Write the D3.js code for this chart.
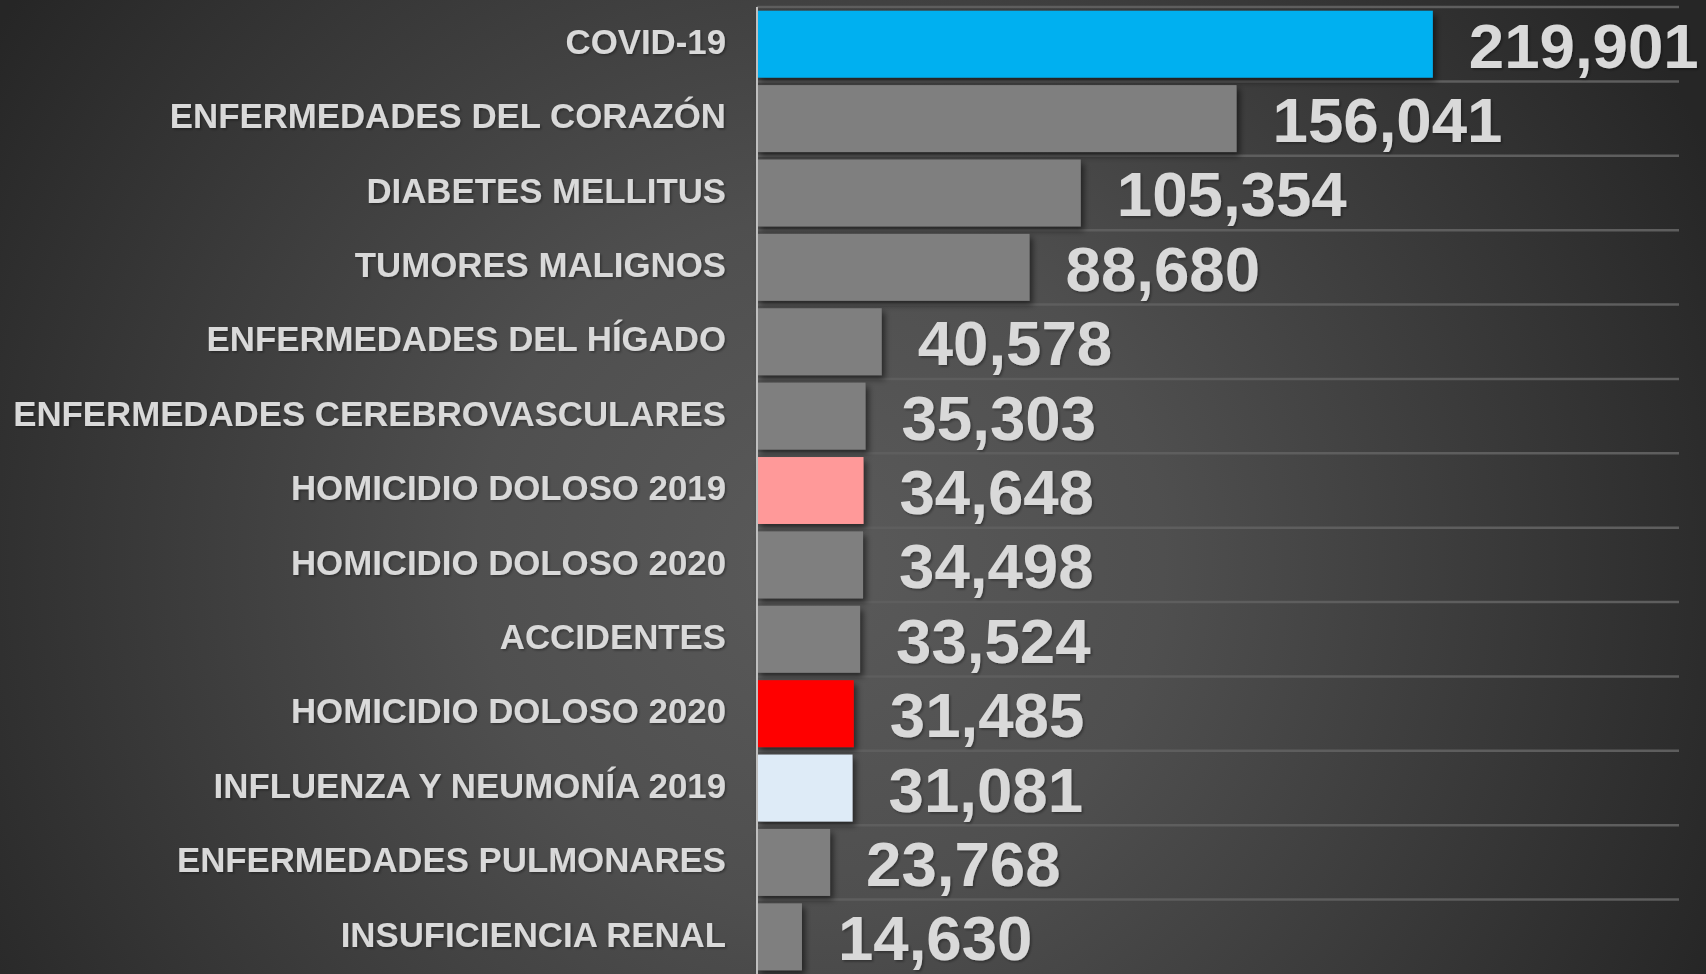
<!DOCTYPE html>
<html>
<head>
<meta charset="utf-8">
<script src="https://cdn.jsdelivr.net/npm/d3@7"></script>
<style>
  html, body { margin: 0; padding: 0; background: #2b2b2b; overflow: hidden; }
  svg { display: block; }
</style>
</head>
<body>
<svg id="chart" width="1706" height="974"></svg>
<script>
const categories = [
  "COVID-19",
  "ENFERMEDADES DEL CORAZÓN",
  "DIABETES MELLITUS",
  "TUMORES MALIGNOS",
  "ENFERMEDADES DEL HÍGADO",
  "ENFERMEDADES CEREBROVASCULARES",
  "HOMICIDIO DOLOSO 2019",
  "HOMICIDIO DOLOSO 2020",
  "ACCIDENTES",
  "HOMICIDIO DOLOSO 2020",
  "INFLUENZA Y NEUMONÍA 2019",
  "ENFERMEDADES PULMONARES",
  "INSUFICIENCIA RENAL"
];
const values = [219901, 156041, 105354, 88680, 40578, 35303, 34648, 34498, 33524, 31485, 31081, 23768, 14630];
const barColors = ["#00b0f0", "#7f7f7f", "#7f7f7f", "#7f7f7f", "#7f7f7f", "#7f7f7f", "#ff9999", "#7f7f7f", "#7f7f7f", "#ff0000", "#deebf7", "#7f7f7f", "#7f7f7f"];
const xMax = 300000;

const W = 1706, H = 974;
const svg = d3.select("#chart");
const defs = svg.append("defs");

const grad = defs.append("radialGradient")
  .attr("id", "bg").attr("gradientUnits", "userSpaceOnUse")
  .attr("cx", 820).attr("cy", 560).attr("r", 980);
grad.append("stop").attr("offset", "0%").attr("stop-color", "#5a5a5a");
grad.append("stop").attr("offset", "35%").attr("stop-color", "#4f4f4f");
grad.append("stop").attr("offset", "100%").attr("stop-color", "#262626");

const sh = defs.append("filter").attr("id", "shadow")
  .attr("x", "-10%").attr("y", "-20%").attr("width", "130%").attr("height", "150%");
sh.append("feDropShadow").attr("dx", 3).attr("dy", 4).attr("stdDeviation", 3)
  .attr("flood-color", "#000").attr("flood-opacity", 0.55);

const tsh = defs.append("filter").attr("id", "tshadow")
  .attr("x", "-10%").attr("y", "-20%").attr("width", "130%").attr("height", "150%");
tsh.append("feDropShadow").attr("dx", 1.5).attr("dy", 1.5).attr("stdDeviation", 1.2)
  .attr("flood-color", "#000").attr("flood-opacity", 0.35);

svg.append("rect").attr("width", W).attr("height", H).attr("fill", "url(#bg)");

const idx = d3.range(categories.length);
const y = d3.scaleBand().domain(idx).range([7, 974]).paddingInner(0.1).paddingOuter(0.05);
const x = d3.scaleLinear().domain([0, xMax]).range([757, 1679]);

// gridlines at band boundaries
const step = y.step();
const gridYs = idx.map(i => y(i) - y.paddingOuter() * step);
svg.append("g").selectAll("line").data(gridYs).join("line")
  .attr("x1", x(0)).attr("x2", x(xMax))
  .attr("y1", d => d).attr("y2", d => d)
  .attr("stroke", "#5e5e5e").attr("stroke-width", 2.5);

// bars
svg.append("g").selectAll("rect").data(idx).join("rect")
  .attr("x", x(0))
  .attr("y", i => y(i))
  .attr("width", i => x(values[i]) - x(0))
  .attr("height", y.bandwidth())
  .attr("fill", i => barColors[i])
  .attr("filter", "url(#shadow)");

// value labels
const fmt = d3.format(",");
svg.append("g").selectAll("text").data(idx).join("text")
  .attr("transform", i => `translate(${x(values[i]) + 36},${y(i) + y.bandwidth() / 2 + 1}) scale(1.06,1.06)`)
  .attr("dominant-baseline", "central")
  .attr("font-family", "'Liberation Sans', Arial, sans-serif")
  .attr("font-weight", "bold")
  .attr("font-size", 60)
  .attr("fill", "#d9d9d9")
  .attr("filter", "url(#tshadow)")
  .text(i => fmt(values[i]));

// category axis
const yAxis = d3.axisLeft(y).tickSize(0).tickPadding(31).tickFormat(i => categories[i]);
const ax = svg.append("g").attr("transform", `translate(${x(0)},0)`).call(yAxis);
ax.select(".domain").attr("stroke", "#bfbfbf").attr("stroke-width", 2)
  .attr("d", `M0,7V${H}`);
ax.selectAll("text")
  .attr("font-family", "'Liberation Sans', Arial, sans-serif")
  .attr("font-weight", "bold")
  .attr("font-size", 34.8)
  .attr("dy", "0.28em")
  .attr("fill", "#d9d9d9")
  .attr("filter", "url(#tshadow)");
</script>
</body>
</html>
